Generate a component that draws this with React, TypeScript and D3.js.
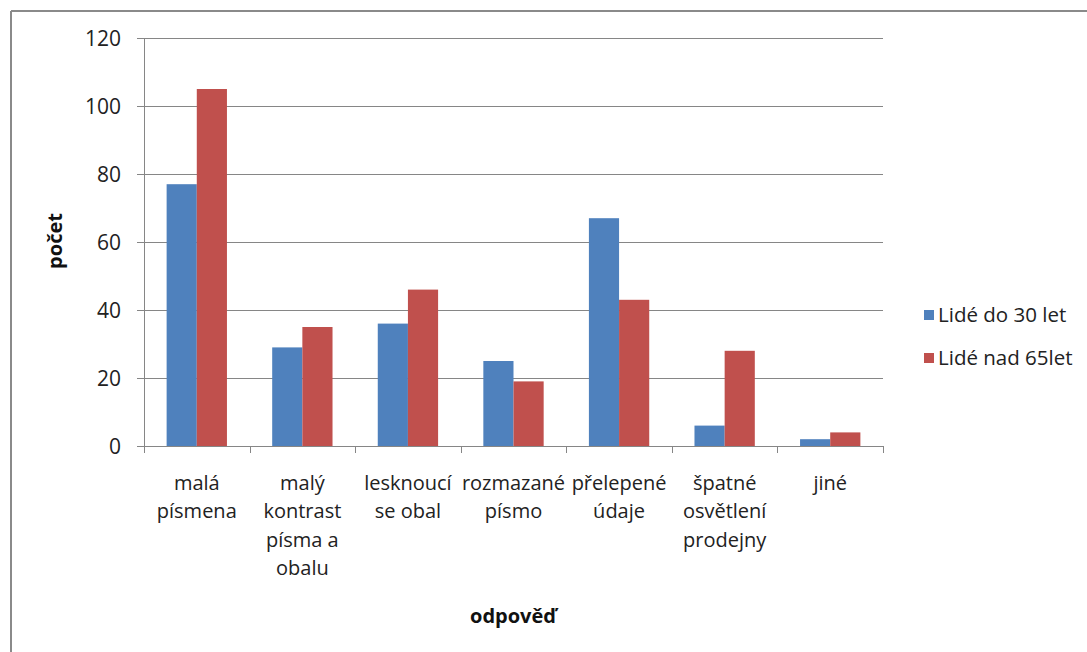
import React from "react";
import * as d3 from "d3";

const categories: string[][] = [
  ["malá", "písmena"],
  ["malý", "kontrast", "písma a", "obalu"],
  ["lesknoucí", "se obal"],
  ["rozmazané", "písmo"],
  ["přelepené", "údaje"],
  ["špatné", "osvětlení", "prodejny"],
  ["jiné"],
];
const seriesNames = ["Lidé do 30 let", "Lidé nad 65let"];
const young = [77, 29, 36, 25, 67, 6, 2];
const old = [105, 35, 46, 19, 43, 28, 4];
const yTicks = [0, 20, 40, 60, 80, 100, 120];
const colors = ["#4f81bd", "#c0504d"];

const W = 1087;
const H = 652;
const left = 144;
const right = 883;
const top = 38;
const bottom = 446;
const FONT = "'Open Sans', Lato, sans-serif";

export default function App() {
  const x = d3
    .scaleBand<number>()
    .domain(d3.range(categories.length))
    .range([left, right])
    .paddingInner(0)
    .paddingOuter(0);
  const y = d3.scaleLinear().domain([0, 120]).range([bottom, top]);
  const bw = x.bandwidth();
  const barW = bw / 3.5;
  const gap = (bw - 2 * barW) / 2;
  const series = [young, old];

  return (
    <svg
      width={W}
      height={H}
      style={{ position: "absolute", left: 0, top: 0, background: "#fff" }}
      fontFamily={FONT}
    >
      <rect x={0} y={0} width={W} height={H} fill="#fff" />
      {/* outer chart border */}
      <line x1={11} y1={11} x2={W} y2={11} stroke="#8a8a8a" strokeWidth={2} />
      <line x1={11} y1={11} x2={11} y2={H} stroke="#8a8a8a" strokeWidth={2} />

      {/* gridlines and y ticks */}
      {yTicks.map((t) => (
        <g key={t}>
          <line
            x1={left - 7}
            x2={right}
            y1={Math.round(y(t)) + 0.5}
            y2={Math.round(y(t)) + 0.5}
            stroke="#868686"
            strokeWidth={1}
          />
          <text
            x={121}
            y={y(t)}
            dy="0.36em"
            textAnchor="end"
            fontSize={21}
            fill="#222"
          >
            {t}
          </text>
        </g>
      ))}
      {/* y axis */}
      <line x1={left + 0.5} x2={left + 0.5} y1={top} y2={bottom} stroke="#868686" />

      {/* bars */}
      {series.map((s, si) =>
        s.map((v, i) => (
          <rect
            key={`${si}-${i}`}
            x={(x(i) as number) + gap + si * barW}
            y={y(v)}
            width={barW}
            height={y(0) - y(v)}
            fill={colors[si]}
          />
        ))
      )}

      {/* x axis */}
      <line x1={left} x2={right} y1={bottom + 0.5} y2={bottom + 0.5} stroke="#868686" />
      {d3.range(categories.length + 1).map((i) => {
        const xx = Math.round(left + i * bw) + 0.5;
        return <line key={i} x1={xx} x2={xx} y1={bottom} y2={bottom + 7} stroke="#868686" />;
      })}

      {/* category labels */}
      {categories.map((lines, i) => (
        <text
          key={i}
          x={(x(i) as number) + bw / 2}
          y={490}
          textAnchor="middle"
          fontSize={20}
          fill="#222"
        >
          {lines.map((l, li) => (
            <tspan key={li} x={(x(i) as number) + bw / 2} dy={li === 0 ? 0 : 28.3}>
              {l}
            </tspan>
          ))}
        </text>
      ))}

      {/* axis titles */}
      <text
        transform={`translate(62, 241) rotate(-90)`}
        textAnchor="middle"
        fontSize={20}
        fontWeight="bold"
        fill="#111"
      >
        počet
      </text>
      <text x={513} y={623} textAnchor="middle" fontSize={20} fontWeight="bold" fill="#111">
        odpověď
      </text>

      {/* legend */}
      {seriesNames.map((n, i) => (
        <g key={n} transform={`translate(924, ${315 + i * 43})`}>
          <rect x={0} y={-5} width={10} height={10} fill={colors[i]} />
          <text x={14} y={0} dy="0.36em" fontSize={20.5} fill="#222">
            {n}
          </text>
        </g>
      ))}
    </svg>
  );
}
